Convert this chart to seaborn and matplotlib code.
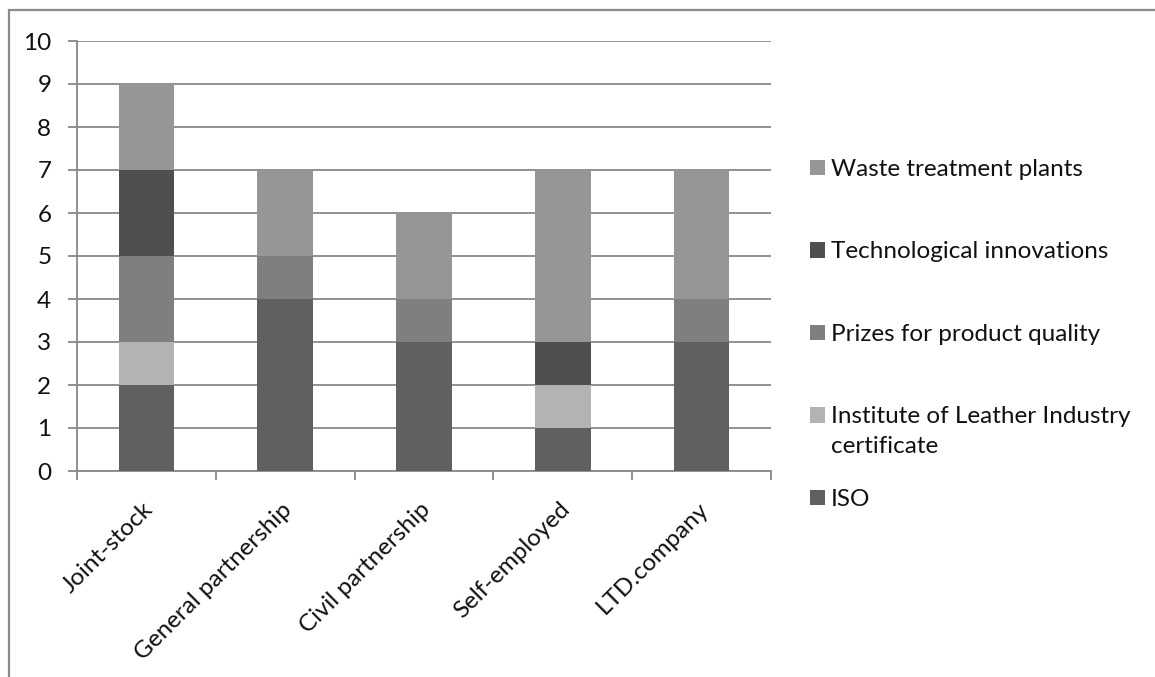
import matplotlib
matplotlib.use("Agg")
import matplotlib.pyplot as plt
import matplotlib.transforms as mtransforms
import seaborn as sns
import numpy as np
import pandas as pd
from matplotlib.patches import Patch, Rectangle

categories = ["Joint-stock", "General partnership", "Civil partnership", "Self-employed", "LTD.company"]
series_names = ["ISO", "Institute of Leather Industry", "Prizes for product quality",
                "Technological innovations", "Waste treatment plants"]
institute_second_line = "certificate"
iso = [2, 4, 3, 1, 3]
institute = [1, 0, 0, 1, 0]
prizes = [2, 1, 1, 0, 1]
tech = [2, 0, 0, 1, 0]
waste = [2, 2, 2, 4, 3]
colors = ["#606060", "#b3b3b3", "#7f7f7f", "#4f4f4f", "#969696"]
yticks = list(range(0, 11))

sns.set_theme(style="white")
plt.rcParams["font.family"] = ["Lato", "DejaVu Sans"]

FS = 17.5
fig = plt.figure(figsize=(11.55, 6.77), dpi=100)
W, H = 1155, 677
ax = fig.add_axes([77 / W, 1 - 471 / H, (771 - 77) / W, (471 - 41) / H])

layers = [iso, institute, prizes, tech, waste]
cum = np.cumsum(np.array(layers), axis=0)
# draw from top (full stack) to bottom so lower segments overlay
for i in range(len(layers) - 1, -1, -1):
    df = pd.DataFrame({"cat": categories, "val": cum[i]})
    sns.barplot(data=df, x="cat", y="val", color=colors[i], saturation=1,
                width=0.4, ax=ax, zorder=3, edgecolor="none", linewidth=0)

ax.set_ylim(0, 10)
ax.set_xlim(-0.5, len(categories) - 0.5)
ax.set_yticks(yticks)
ax.set_yticklabels([str(t) for t in yticks])
ax.yaxis.grid(True, color="#888888", linewidth=1.3)
ax.set_axisbelow(True)
ax.set_xlabel("")
ax.set_ylabel("")

for s in ["top", "right"]:
    ax.spines[s].set_visible(False)
for s in ["left", "bottom"]:
    ax.spines[s].set_color("#888888")
    ax.spines[s].set_linewidth(1.3)

ax.tick_params(axis="y", which="major", length=6.5, width=1.3, color="#888888",
               pad=12, labelsize=FS, labelcolor="#111111", left=True)
ax.set_xticks(range(len(categories)))
ax.set_xticklabels(categories, rotation=45, ha="right", rotation_mode="anchor")
ax.tick_params(axis="x", which="major", length=0, pad=20, labelsize=FS, labelcolor="#111111")
shift = mtransforms.ScaledTranslation(-4 / 100, 0, fig.dpi_scale_trans)
for lab in ax.get_xticklabels():
    lab.set_transform(lab.get_transform() + shift)
ax.set_xticks(np.arange(-0.5, len(categories), 1.0), minor=True)
ax.tick_params(axis="x", which="minor", length=6.5, width=1.3, color="#888888", bottom=True)

handles = [Patch(facecolor=colors[i], edgecolor="none", label=series_names[i])
           for i in range(len(layers) - 1, -1, -1)]
leg = fig.legend(handles=handles, loc="upper left", bbox_to_anchor=(810 / W, 1 - 159 / H),
                 frameon=False, fontsize=FS, labelspacing=2.53, handlelength=0.62,
                 handleheight=0.6, handletextpad=0.25, borderpad=0, borderaxespad=0,
                 labelcolor="#111111")

# second line of the wrapped legend label, aligned under its first line
fig.canvas.draw()
txt = [t for t in leg.get_texts() if t.get_text() == "Institute of Leather Industry"][0]
bb = txt.get_window_extent()
fig.text(bb.x0 / W, (bb.y0 - 30 + bb.height / 2) / H, institute_second_line, fontsize=FS,
         color="#111111", ha="left", va="center")

# chart-area border
fig.patches.append(Rectangle((9 / W, -0.1), 1.2, 1 - 10 / H + 0.1, transform=fig.transFigure,
                             fill=False, edgecolor="#8c8c8c", linewidth=1.6))

fig.savefig("out.png", dpi=100)
